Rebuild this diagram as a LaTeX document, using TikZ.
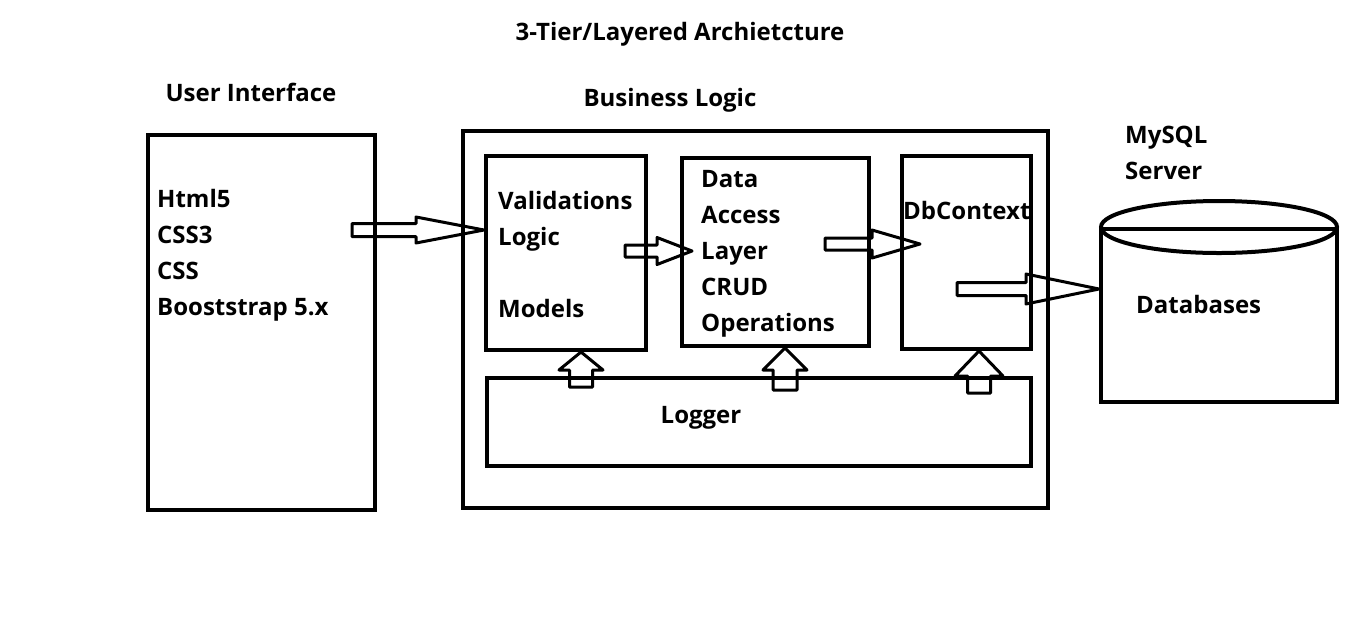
\documentclass[tikz,border=0pt]{standalone}
\usepackage{fontspec}
\setmainfont{Open Sans}
\usetikzlibrary{calc}

\tikzset{
  box/.style={draw, line width=4pt, inner sep=0pt},
  label/.style={inner sep=0pt, font=\fontsize{24}{36}\selectfont\bfseries, align=left},
  arrowline/.style={draw, line width=3pt, line join=round}
}

% tail, tip, shaft half width, head half width, head length (all in px)
\newcommand{\hollowarrow}[5]{%
  \coordinate (ha-base) at ($(#2)!#5pt!(#1)$);
  \path[arrowline] ($(#1)!#3pt!90:(#2)$) -- ($(ha-base)!#3pt!-90:(#1)$)
    -- ($(ha-base)!#4pt!-90:(#1)$) -- (#2) -- ($(ha-base)!#4pt!90:(#1)$)
    -- ($(ha-base)!#3pt!90:(#1)$) -- ($(#1)!#3pt!-90:(#2)$) -- cycle;
}

\begin{document}
\begin{tikzpicture}[x=1pt, y=-1pt]

\useasboundingbox (0,0) rectangle (1362,638);

\node[label] (title) at (680,34) {3-Tier/Layered Archietcture};
\node[label] (uititle) at (251,92) {User Interface};
\node[label] (bltitle) at (670,100) {Business Logic};
\node[label, anchor=west] (dbtitle) at (1125,153) {MySQL\\Server};

\node[box, minimum width=227pt, minimum height=375pt] (ui) at (261.5,322.5) {};
\node[box, minimum width=585pt, minimum height=377pt] (bl) at (755.5,319.5) {};
\node[box, minimum width=160pt, minimum height=194pt] (val) at (566,253) {};
\node[box, minimum width=187pt, minimum height=188pt] (dal) at (775.5,252) {};
\node[box, minimum width=129pt, minimum height=193pt] (dbc) at (966.5,252.5) {};
\node[box, minimum width=544pt, minimum height=88pt] (log) at (759,422) {};
\node[box, minimum width=236pt, minimum height=173pt] (db) at (1219,315.5) {};
\draw[line width=4pt] (db.north) ellipse [x radius=118pt, y radius=26pt];

\node[label, anchor=west] at (157,255) {Html5\\CSS3\\CSS\\Booststrap 5.x};
\node[label, anchor=west] at (498,254) {Validations\\Logic\\\mbox{}\\Models};
\node[label, anchor=west] at (701,254) {Data\\Access\\Layer\\CRUD\\Operations};
\node[label, anchor=west] at (903,210) {DbContext};
\node[label] at (701,418) {Logger};
\node[label, anchor=west] at (1136,304) {Databases};

\coordinate (uiOut) at (352,230);
\coordinate (valIn) at (val.west |- uiOut);
\coordinate (valOut) at (625,251);
\coordinate (dalIn) at (692,251);
\coordinate (dalOut) at (825,244);
\coordinate (dbcIn) at (920,244);
\coordinate (dbcOut) at (957,289);
\coordinate (dbIn) at (db.west |- dbcOut);
\coordinate (logA) at (581,387);
\coordinate (logB) at (785,390);
\coordinate (logC) at (979,393);

\hollowarrow{uiOut}{valIn}{6.5}{13}{68}
\hollowarrow{valOut}{dalIn}{6}{13.5}{35}
\hollowarrow{dalOut}{dbcIn}{6}{14}{48}
\hollowarrow{dbcOut}{dbIn}{6.5}{15}{73}
\hollowarrow{logA}{val.south -| logA}{11.5}{22}{18}
\hollowarrow{logB}{dal.south -| logB}{12}{22}{22}
\hollowarrow{logC}{dbc.south -| logC}{11.5}{24}{25}

\end{tikzpicture}
\end{document}
